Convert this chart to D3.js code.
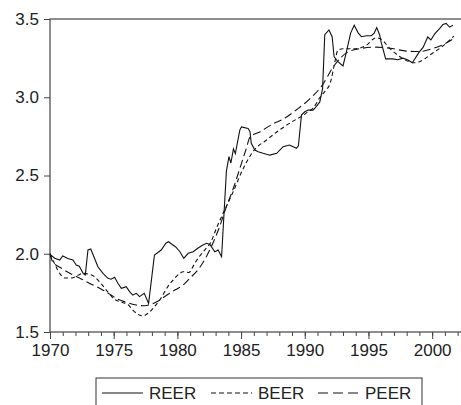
<!doctype html>
<html>
<head>
    <script src="https://d3js.org/d3.v7.min.js"></script>
    <style>
        body { margin: 0; background: #fff; }
        text { font-family: "Liberation Sans", Arial, sans-serif; fill: #222; }
    </style>
</head>
<body>

    <svg width="461" height="405"></svg>

    <script>
        // [year, value] pairs
        var reer = [
            [1970.0, 1.996], [1970.37, 1.971], [1970.76, 1.96], [1971.0, 1.986], [1971.4, 1.97],
            [1971.8, 1.96], [1972.06, 1.928], [1972.3, 1.92], [1972.6, 1.875], [1972.77, 1.864],
            [1972.98, 2.024], [1973.2, 2.03], [1973.5, 1.97], [1973.76, 1.917], [1974.16, 1.875],
            [1974.55, 1.843], [1974.8, 1.837], [1975.07, 1.85], [1975.33, 1.811], [1975.6, 1.779],
            [1975.98, 1.79], [1976.25, 1.758], [1976.5, 1.736], [1976.77, 1.747], [1977.03, 1.726],
            [1977.4, 1.747], [1977.74, 1.683], [1978.2, 1.992], [1978.73, 2.024], [1979.1, 2.067],
            [1979.3, 2.077], [1979.65, 2.056], [1979.85, 2.045], [1980.2, 2.013], [1980.5, 1.971],
            [1980.85, 2.003], [1981.24, 2.013], [1981.6, 2.035], [1982.0, 2.056], [1982.3, 2.067],
            [1982.55, 2.06], [1982.94, 2.013], [1983.2, 2.024], [1983.47, 1.981], [1983.85, 2.53],
            [1984.05, 2.62], [1984.2, 2.58], [1984.4, 2.67], [1984.55, 2.64], [1984.9, 2.79],
            [1985.03, 2.81], [1985.55, 2.80], [1985.7, 2.78], [1985.8, 2.706], [1986.08, 2.663],
            [1986.34, 2.652], [1986.73, 2.642], [1987.25, 2.63], [1987.8, 2.642], [1988.3, 2.684],
            [1988.8, 2.695], [1989.35, 2.674], [1989.5, 2.69], [1989.74, 2.886], [1990.0, 2.907],
            [1990.26, 2.918], [1990.65, 2.918], [1990.9, 2.94], [1991.18, 2.97], [1991.4, 3.057],
            [1991.57, 3.40], [1991.9, 3.43], [1992.15, 3.387], [1992.3, 3.26], [1992.6, 3.227],
            [1993.0, 3.2], [1993.27, 3.29], [1993.6, 3.41], [1993.88, 3.46], [1994.2, 3.41],
            [1994.45, 3.387], [1994.84, 3.393], [1995.23, 3.393], [1995.45, 3.41], [1995.65, 3.445],
            [1995.88, 3.398], [1996.0, 3.35], [1996.35, 3.245], [1996.9, 3.245], [1997.3, 3.24],
            [1997.7, 3.25], [1998.1, 3.238], [1998.45, 3.22], [1998.95, 3.285], [1999.3, 3.32],
            [1999.65, 3.385], [1999.9, 3.366], [2000.2, 3.405], [2000.6, 3.44], [2000.85, 3.465],
            [2001.1, 3.472], [2001.37, 3.448], [2001.63, 3.46]
        ];

        var beer = [
            [1970.0, 2.0], [1970.4, 1.93], [1970.8, 1.87], [1971.2, 1.845], [1971.7, 1.845],
            [1972.2, 1.862], [1972.6, 1.875], [1973.0, 1.87], [1973.5, 1.853], [1974.0, 1.81],
            [1974.5, 1.76], [1975.0, 1.713], [1975.6, 1.69], [1976.1, 1.677], [1976.5, 1.64],
            [1976.9, 1.613], [1977.3, 1.603], [1977.7, 1.62], [1978.2, 1.662], [1978.7, 1.715],
            [1979.25, 1.79], [1979.8, 1.845], [1980.2, 1.875], [1980.45, 1.885], [1980.9, 1.88],
            [1981.3, 1.93], [1981.7, 1.98], [1982.2, 2.03], [1982.6, 2.07], [1983.1, 2.17],
            [1983.6, 2.26], [1984.4, 2.40], [1985.2, 2.55], [1986.0, 2.66], [1987.0, 2.727],
            [1988.0, 2.79], [1989.35, 2.86], [1989.8, 2.88], [1990.2, 2.905], [1990.65, 2.93],
            [1991.2, 3.0], [1991.6, 3.04], [1992.0, 3.09], [1992.3, 3.2], [1992.6, 3.3],
            [1993.0, 3.31], [1994.0, 3.31], [1994.8, 3.33], [1995.6, 3.38], [1996.0, 3.37],
            [1996.7, 3.31], [1997.45, 3.26], [1998.2, 3.227], [1998.6, 3.22], [1999.0, 3.227],
            [1999.5, 3.25], [2000.0, 3.28], [2000.6, 3.313], [2001.1, 3.345], [2001.7, 3.39]
        ];

        var peer = [
            [1970.0, 2.0], [1970.2, 1.95], [1970.9, 1.907], [1971.7, 1.869], [1972.45, 1.839],
            [1973.25, 1.805], [1974.0, 1.775], [1974.8, 1.736], [1975.3, 1.71], [1976.0, 1.69],
            [1976.8, 1.672], [1977.4, 1.668], [1977.95, 1.677], [1978.5, 1.698], [1979.1, 1.732],
            [1979.8, 1.768], [1980.45, 1.80], [1981.0, 1.845], [1981.6, 1.896], [1982.2, 1.97],
            [1982.8, 2.07], [1983.3, 2.17], [1983.8, 2.29], [1984.4, 2.42], [1985.0, 2.57],
            [1985.4, 2.67], [1985.7, 2.745], [1986.5, 2.78], [1987.5, 2.83], [1988.3, 2.86],
            [1989.35, 2.92], [1990.4, 2.99], [1991.4, 3.08], [1992.2, 3.19], [1993.3, 3.285],
            [1994.3, 3.31], [1995.6, 3.32], [1996.7, 3.313], [1998.0, 3.295], [1999.0, 3.292],
            [2000.0, 3.31], [2000.8, 3.334], [2001.7, 3.375]
        ];

        var majorYears = [1970, 1975, 1980, 1985, 1990, 1995, 2000];
        var yTicks = [1.5, 2.0, 2.5, 3.0, 3.5];
        var legendNames = ["REER", "BEER", "PEER"];

        var svg = d3.select("svg");
        var plotLeft = 50, plotTop = 19, plotBottom = 332, plotRight = 464;

        var x = d3.scaleLinear().domain([1970, 2002.5]).range([plotLeft, plotRight]);
        var y = d3.scaleLinear().domain([1.5, 3.5]).range([plotBottom, plotTop]);

        // minor year ticks
        svg.append("g")
            .attr("transform", "translate(0," + plotBottom + ")")
            .call(d3.axisBottom(x).tickValues(d3.range(1970, 2003)).tickSize(4).tickSizeOuter(0).tickFormat(""))
            .call(g => g.select(".domain").remove())
            .selectAll("line").attr("stroke", "#444");

        var xAxis = svg.append("g")
            .attr("transform", "translate(0," + plotBottom + ")")
            .call(d3.axisBottom(x).tickValues(majorYears).tickFormat(d3.format("d")).tickSize(7).tickSizeOuter(0).tickPadding(5));
        xAxis.select(".domain").remove();
        xAxis.selectAll("line").attr("stroke", "#444");
        xAxis.selectAll("text").attr("font-size", "17px").attr("font-family", "Liberation Sans, Arial").attr("fill", "#222");

        var yAxis = svg.append("g")
            .attr("transform", "translate(" + plotLeft + ",0)")
            .call(d3.axisLeft(y).tickValues(yTicks).tickFormat(d3.format(".1f")).tickSize(6).tickSizeOuter(0).tickPadding(5));
        yAxis.select(".domain").remove();
        yAxis.selectAll("line").attr("stroke", "#444");
        yAxis.selectAll("text").attr("font-size", "17px").attr("font-family", "Liberation Sans, Arial").attr("fill", "#222");

        // frame
        svg.append("rect")
            .attr("x", plotLeft).attr("y", plotTop)
            .attr("width", plotRight - plotLeft).attr("height", plotBottom - plotTop)
            .attr("fill", "none").attr("stroke", "#444").attr("stroke-width", 1.2);

        var line = d3.line().x(d => x(d[0])).y(d => y(d[1]));
        var smooth = d3.line().x(d => x(d[0])).y(d => y(d[1])).curve(d3.curveMonotoneX);

        var styles = [
            {data: reer, gen: line, dash: null},
            {data: beer, gen: smooth, dash: "4,3"},
            {data: peer, gen: smooth, dash: "8,4"}
        ];

        svg.append("g").selectAll("path")
            .data(styles)
            .enter()
            .append("path")
            .attr("d", d => d.gen(d.data))
            .attr("fill", "none")
            .attr("stroke", "#111")
            .attr("stroke-width", 1.1)
            .attr("stroke-dasharray", d => d.dash);

        // legend
        var legend = svg.append("g");
        legend.append("rect")
            .attr("x", 96).attr("y", 378).attr("width", 326).attr("height", 40)
            .attr("fill", "#fff").attr("stroke", "#333").attr("stroke-width", 1);

        var legendX = [102, 211, 318];
        var legendDash = [null, "5,3", "10,5"];
        legendNames.forEach(function (name, i) {
            legend.append("line")
                .attr("x1", legendX[i]).attr("x2", legendX[i] + 41)
                .attr("y1", 393).attr("y2", 393)
                .attr("stroke", "#111").attr("stroke-width", 1.1)
                .attr("stroke-dasharray", legendDash[i]);
            legend.append("text")
                .attr("x", legendX[i] + 47).attr("y", 399)
                .attr("font-size", "17px")
                .text(name);
        });
    </script>
</body>
</html>
